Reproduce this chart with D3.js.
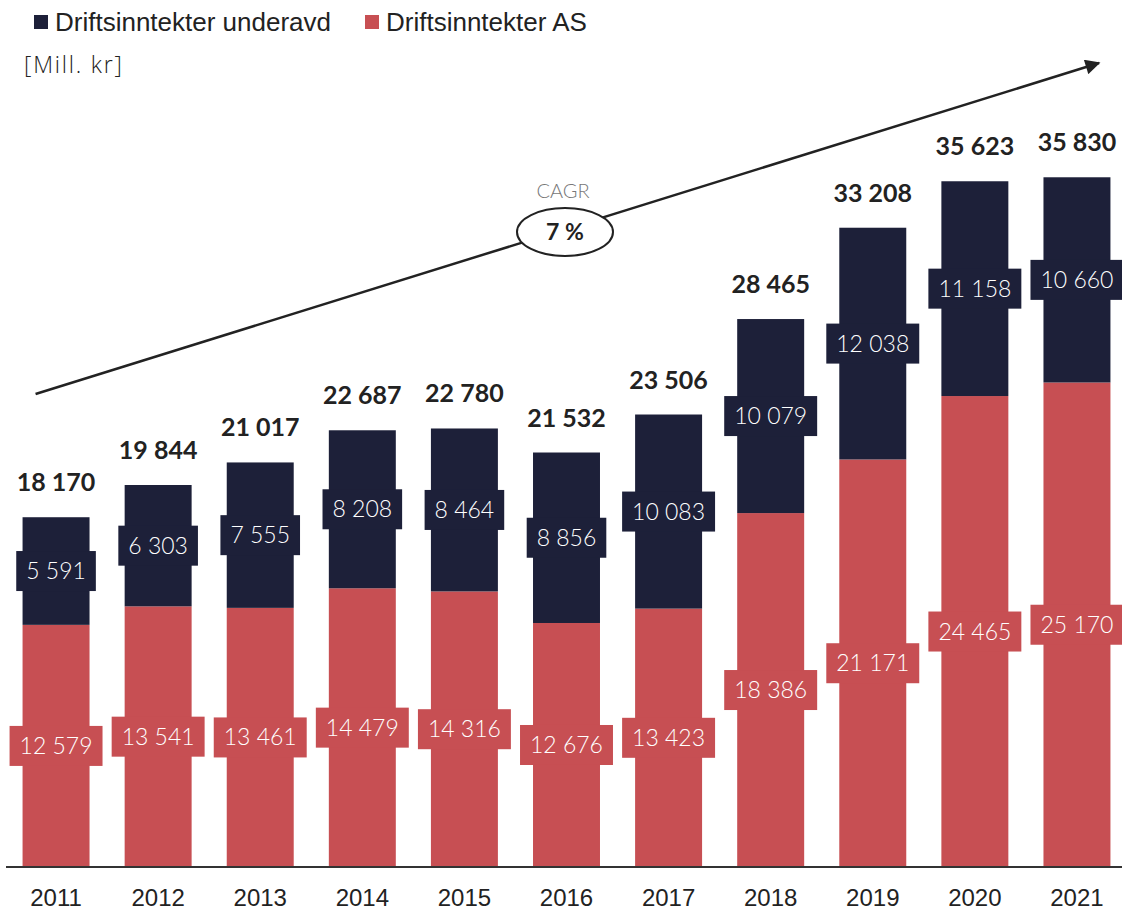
<!DOCTYPE html>
<html>
<head>
<meta charset="utf-8">
<script src="https://cdn.jsdelivr.net/npm/d3@7/dist/d3.min.js"></script>
<style>
    body { margin: 0; background: #fff; }
    svg { display: block; }
</style>
</head>
<body>
<div id="chart"></div>
<script>
// Data
const years = ["2011", "2012", "2013", "2014", "2015", "2016", "2017", "2018", "2019", "2020", "2021"];
const inntekterAS = [12579, 13541, 13461, 14479, 14316, 12676, 13423, 18386, 21171, 24465, 25170];
const inntekterUnderavd = [5591, 6303, 7555, 8208, 8464, 8856, 10083, 10079, 12038, 11158, 10660];
const totals = [18170, 19844, 21017, 22687, 22780, 21532, 23506, 28465, 33208, 35623, 35830];
const seriesNames = ["Driftsinntekter underavd", "Driftsinntekter AS"];
const cagrLabel = "7 %";

// Dimensions
const width = 1122;
const height = 910;
const baseline = 867;
const navy = "#1d2039";
const red = "#c74f53";

const svg = d3.select("#chart")
    .append("svg")
        .attr("width", width)
        .attr("height", height);

const fmt = d3.formatLocale({decimal: ",", thousands: " ", grouping: [3], currency: ["", ""]}).format(",d");

// Scales
const xScale = d3.scaleBand()
    .domain(years)
    .range([5, 1128])
    .paddingInner(0.344)
    .paddingOuter(0.172);

const yScale = d3.scaleLinear()
    .domain([0, 36000])
    .range([baseline, 174]);

const data = years.map((y, i) => ({
    year: y,
    as: inntekterAS[i],
    under: inntekterUnderavd[i],
    total: totals[i]
}));

// Bars
const bars = svg.append("g");
bars.selectAll("rect.as")
    .data(data)
    .enter()
    .append("rect")
        .attr("class", "as")
        .attr("x", d => xScale(d.year))
        .attr("y", d => yScale(d.as))
        .attr("width", xScale.bandwidth())
        .attr("height", d => baseline - yScale(d.as))
        .attr("fill", red);

bars.selectAll("rect.under")
    .data(data)
    .enter()
    .append("rect")
        .attr("class", "under")
        .attr("x", d => xScale(d.year))
        .attr("y", d => yScale(d.as + d.under))
        .attr("width", xScale.bandwidth())
        .attr("height", d => yScale(d.as) - yScale(d.as + d.under))
        .attr("fill", navy);

// Segment labels with boxes
function segmentLabel(value, lo, hi, fill, d) {
    const cx = xScale(d.year) + xScale.bandwidth() / 2;
    const cy = (yScale(lo) + yScale(hi)) / 2;
    const g = svg.append("g");
    const box = g.append("rect").attr("fill", fill);
    const t = g.append("text")
        .attr("x", cx)
        .attr("y", cy + 8)
        .attr("text-anchor", "middle")
        .attr("font-family", "Lato, sans-serif")
        .attr("font-weight", 300)
        .attr("font-size", 23)
        .attr("fill", "#fff")
        .text(fmt(value));
    const w = t.node().getComputedTextLength() + 20;
    box.attr("x", cx - w / 2)
        .attr("y", cy - 20)
        .attr("width", w)
        .attr("height", 40);
}

data.forEach(d => {
    segmentLabel(d.as, 0, d.as, red, d);
    segmentLabel(d.under, d.as, d.as + d.under, navy, d);
});

// Totals
svg.append("g")
    .selectAll("text")
    .data(data)
    .enter()
    .append("text")
        .attr("x", d => xScale(d.year) + xScale.bandwidth() / 2)
        .attr("y", d => yScale(d.total) - 26)
        .attr("text-anchor", "middle")
        .attr("font-family", "Lato, sans-serif")
        .attr("font-weight", 700)
        .attr("font-size", 25)
        .attr("fill", "#222")
        .text(d => fmt(d.total));

// Axis
const xAxis = svg.append("g")
    .attr("transform", `translate(0,${baseline})`)
    .call(d3.axisBottom(xScale).tickSize(0).tickPadding(22));
xAxis.select(".domain").remove();
xAxis.selectAll("text")
    .attr("font-family", "'Liberation Sans', Arial, sans-serif")
    .attr("font-size", 24)
    .attr("fill", "#222");
svg.append("line")
    .attr("x1", 6)
    .attr("x2", width)
    .attr("y1", baseline)
    .attr("y2", baseline)
    .attr("stroke", "#333")
    .attr("stroke-width", 2);

// Legend
const legend = svg.append("g");
const legendX = [34, 365];
const legendColors = [navy, red];
seriesNames.forEach((name, i) => {
    legend.append("rect")
        .attr("x", legendX[i])
        .attr("y", 15)
        .attr("width", 14)
        .attr("height", 14)
        .attr("fill", legendColors[i]);
    legend.append("text")
        .attr("x", legendX[i] + 21)
        .attr("y", 31)
        .attr("font-family", "'Liberation Sans', Arial, sans-serif")
        .attr("font-size", 26)
        .attr("fill", "#222")
        .text(name);
});

svg.append("text")
    .attr("x", 24)
    .attr("y", 73)
    .attr("font-family", "'Open Sans', sans-serif")
    .attr("font-weight", 300)
    .attr("font-size", 23)
    .attr("letter-spacing", 1.8)
    .attr("fill", "#222")
    .text("[Mill. kr]");

// CAGR arrow
svg.append("defs")
    .append("marker")
        .attr("id", "arrow")
        .attr("viewBox", "0 0 10 10")
        .attr("refX", 9)
        .attr("refY", 5)
        .attr("markerWidth", 7)
        .attr("markerHeight", 6)
        .attr("markerUnits", "strokeWidth")
        .attr("orient", "auto")
    .append("path")
        .attr("d", "M0,0 L10,5 L0,10 Z")
        .attr("fill", "#222");

const ax0 = xScale("2011") + 13, ay0 = 394;
const ax1 = 1099, ay1 = 63;
svg.append("line")
    .attr("x1", ax0)
    .attr("y1", ay0)
    .attr("x2", ax1)
    .attr("y2", ay1)
    .attr("stroke", "#222")
    .attr("stroke-width", 2.5)
    .attr("marker-end", "url(#arrow)");

const ex = 565, ey = 232;
svg.append("ellipse")
    .attr("cx", ex)
    .attr("cy", ey)
    .attr("rx", 48)
    .attr("ry", 24)
    .attr("fill", "#fff")
    .attr("stroke", "#222")
    .attr("stroke-width", 2);
svg.append("text")
    .attr("x", ex)
    .attr("y", ey + 8)
    .attr("text-anchor", "middle")
    .attr("font-family", "Lato, sans-serif")
    .attr("font-weight", 700)
    .attr("font-size", 23)
    .attr("fill", "#222")
    .text(cagrLabel);
svg.append("text")
    .attr("x", ex - 2)
    .attr("y", 198)
    .attr("text-anchor", "middle")
    .attr("font-family", "Lato, sans-serif")
    .attr("font-weight", 300)
    .attr("font-size", 20)
    .attr("fill", "#777")
    .text("CAGR");
</script>
</body>
</html>
